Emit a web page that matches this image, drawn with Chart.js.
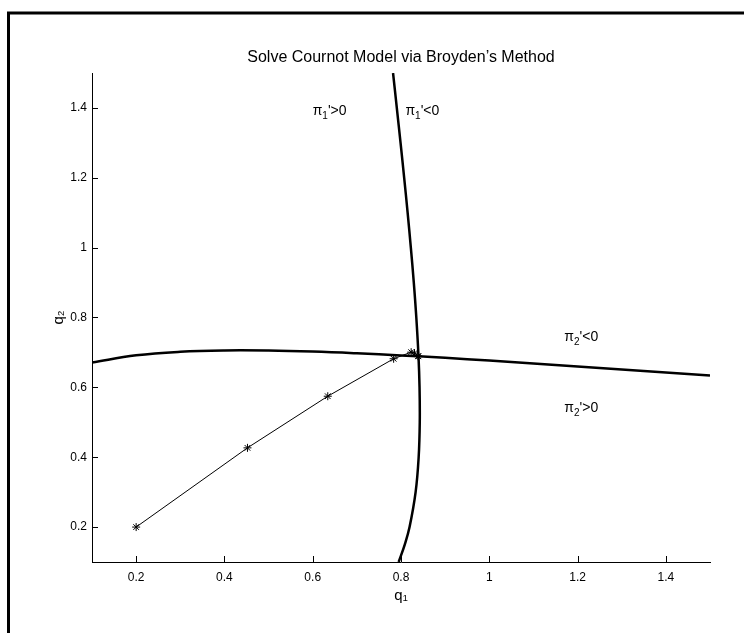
<!DOCTYPE html>
<html>
<head>
<meta charset="utf-8">
<script src="https://cdn.jsdelivr.net/npm/chart.js@4.4.1/dist/chart.umd.min.js"></script>
<style>
  html, body { margin: 0; padding: 0; background: #fff; }
  canvas { display: block; }
</style>
</head>
<body>
<canvas id="cournotChart" width="744" height="633"></canvas>
<script>
// Reaktionskurven pi1' = 0 (fast senkrecht) und pi2' = 0 (fast waagrecht)
const curve1Q1 = [0.7947, 0.8085, 0.8194, 0.8331, 0.840, 0.8425, 0.842, 0.8396, 0.8347, 0.829, 0.8223, 0.815, 0.8072, 0.799, 0.7905, 0.782];
const curve1Q2 = [0.10, 0.15, 0.20, 0.30, 0.40, 0.50, 0.60, 0.69, 0.80, 0.90, 1.00, 1.10, 1.20, 1.30, 1.40, 1.50];

const curve2Q1 = [0.1, 0.2, 0.3, 0.4, 0.5, 0.6, 0.7, 0.8, 0.9, 1.0, 1.1, 1.2, 1.35, 1.5];
const curve2Q2 = [0.671, 0.6917, 0.7019, 0.7057, 0.7054, 0.7025, 0.6976, 0.6915, 0.6845, 0.6767, 0.6685, 0.660, 0.647, 0.634];

// Broyden-Iterationen
const iterQ1 = [0.2, 0.4522, 0.6341, 0.7833, 0.8230, 0.8306, 0.8385, 0.8396];
const iterQ2 = [0.2, 0.4268, 0.5746, 0.6819, 0.7007, 0.6981, 0.6895, 0.6888];

// Achsen
const tickValues = [0.2, 0.4, 0.6, 0.8, 1.0, 1.2, 1.4];
const titleText = 'Solve Cournot Model via Broyden\u2019s Method';

// Beschriftungen im Diagramm: pi, Index, Rest
const noteIndex = ['1', '1', '2', '2'];
const noteRest = ['\'>0', '\'<0', '\'<0', '\'>0'];
const noteQ1 = [0.6, 0.81, 1.17, 1.17];
const noteQ2 = [1.39, 1.39, 0.744, 0.54];

const FONT = 'Liberation Sans, Arial, Helvetica, sans-serif';

function toPoints(xs, ys) {
  return xs.map((x, i) => ({ x: x, y: ys[i] }));
}

// Rahmen um die Figur, weißer Hintergrund
const frame = {
  id: 'frame',
  beforeDraw(chart) {
    const ctx = chart.ctx;
    ctx.save();
    ctx.fillStyle = '#fff';
    ctx.fillRect(0, 0, chart.width, chart.height);
    ctx.strokeStyle = '#000';
    ctx.lineWidth = 3;
    ctx.beginPath();
    ctx.moveTo(8.5, chart.height + 5);
    ctx.lineTo(8.5, 13);
    ctx.lineTo(chart.width + 5, 13);
    ctx.stroke();
    ctx.restore();
  }
};

// Titel über den Achsen, Striche nach innen (wie in MATLAB), Texte
const extras = {
  id: 'extras',
  afterDatasetsDraw(chart) {
    const ctx = chart.ctx;
    const xs = chart.scales.x, ys = chart.scales.y;
    const a = chart.chartArea;
    ctx.save();
    ctx.strokeStyle = '#000';
    ctx.lineWidth = 1;
    ctx.beginPath();
    tickValues.forEach(v => {
      const px = Math.round(xs.getPixelForValue(v)) + 0.5;
      ctx.moveTo(px, a.bottom);
      ctx.lineTo(px, a.bottom - 6);
      const py = Math.round(ys.getPixelForValue(v)) + 0.5;
      ctx.moveTo(a.left, py);
      ctx.lineTo(a.left + 6, py);
    });
    ctx.stroke();

    ctx.fillStyle = '#000';
    ctx.textBaseline = 'middle';
    ctx.textAlign = 'center';
    ctx.font = '16px ' + FONT;
    ctx.fillText(titleText, (a.left + a.right) / 2, a.top - 15);

    ctx.textAlign = 'left';
    noteIndex.forEach((sub, i) => {
      let x = xs.getPixelForValue(noteQ1[i]);
      const y = ys.getPixelForValue(noteQ2[i]);
      ctx.font = '14px ' + FONT;
      ctx.fillText('π', x, y);
      x += ctx.measureText('π').width;
      ctx.font = '10px ' + FONT;
      ctx.fillText(sub, x, y + 5);
      x += ctx.measureText(sub).width;
      ctx.font = '14px ' + FONT;
      ctx.fillText(noteRest[i], x, y);
    });
    ctx.restore();
  }
};

const data = {
  datasets: [
    {
      label: 'pi1',
      data: toPoints(curve1Q1, curve1Q2),
      borderColor: '#000',
      borderWidth: 2.5,
      pointRadius: 0,
      tension: 0.4,
      showLine: true
    },
    {
      label: 'pi2',
      data: toPoints(curve2Q1, curve2Q2),
      borderColor: '#000',
      borderWidth: 2.5,
      pointRadius: 0,
      tension: 0.4,
      showLine: true
    },
    {
      label: 'broyden',
      data: toPoints(iterQ1, iterQ2),
      borderColor: '#000',
      borderWidth: 1,
      pointStyle: 'star',
      pointRadius: 4,
      pointBorderWidth: 1,
      pointBorderColor: '#000',
      showLine: true
    }
  ]
};

const options = {
  responsive: false,
  animation: false,
  layout: { padding: { left: 0, right: 34, top: 73, bottom: 0 } },
  plugins: {
    legend: { display: false },
    tooltip: { enabled: false },
    title: { display: false }
  },
  scales: {
    x: {
      type: 'linear',
      min: 0.1,
      max: 1.5,
      afterBuildTicks: s => { s.ticks = tickValues.map(v => ({ value: v })); },
      afterFit: s => { s.height = 71; },
      grid: { display: false, drawTicks: false },
      border: { display: true, color: '#000', width: 1 },
      ticks: {
        color: '#000',
        padding: 8,
        font: { family: FONT, size: 12 },
        maxRotation: 0,
        callback: v => String(+v.toFixed(1))
      },
      title: {
        display: true,
        text: 'q₁',
        color: '#000',
        font: { family: FONT, size: 15 },
        padding: { top: 0, bottom: 28 }
      }
    },
    y: {
      type: 'linear',
      min: 0.1,
      max: 1.5,
      afterBuildTicks: s => { s.ticks = tickValues.map(v => ({ value: v })); },
      afterFit: s => { s.width = 92; },
      grid: { display: false, drawTicks: false },
      border: { display: true, color: '#000', width: 1 },
      ticks: {
        color: '#000',
        padding: 5,
        font: { family: FONT, size: 12 },
        callback: v => String(+v.toFixed(1))
      },
      title: {
        display: true,
        text: 'q₂',
        color: '#000',
        font: { family: FONT, size: 15 },
        padding: { top: 50, bottom: 0 }
      }
    }
  }
};

const ctx = document.getElementById('cournotChart').getContext('2d');
new Chart(ctx, {
  type: 'scatter',
  data: data,
  options: options,
  plugins: [frame, extras]
});
</script>
</body>
</html>
